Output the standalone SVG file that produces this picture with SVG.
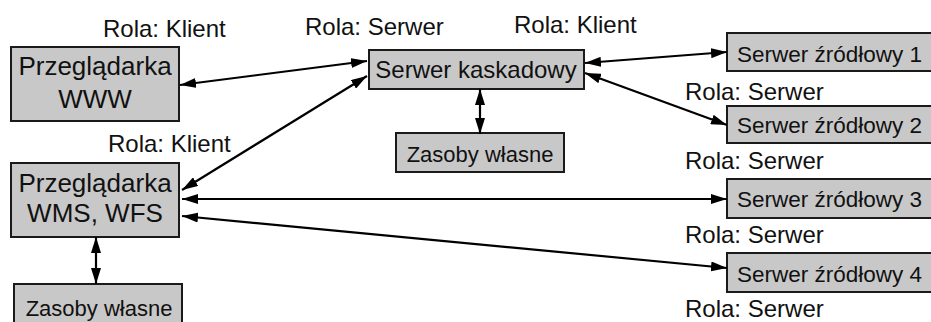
<svg xmlns="http://www.w3.org/2000/svg" width="931" height="322" viewBox="0 0 931 322">
<style>
  .box { fill: #c8c8c8; stroke: #1a1a1a; stroke-width: 2; }
  .t { font-family: "Liberation Sans", Arial, sans-serif; fill: #111; }
  .big { font-size: 26px; text-anchor: middle; }
  .mid { font-size: 24px; text-anchor: middle; }
  .sm { font-size: 22px; text-anchor: middle; }
  .src { font-size: 22.5px; }
  .role { font-size: 24px; }
  .conn line { stroke: #000; stroke-width: 2.2; fill: none; marker-start: url(#ah); marker-end: url(#ah); }
</style>
<defs>
  <marker id="ah" viewBox="0 0 16 10" refX="16" refY="5" markerWidth="16" markerHeight="10" markerUnits="userSpaceOnUse" orient="auto-start-reverse">
    <path d="M0,0 L16,5 L0,10 z" fill="#000"/>
  </marker>
</defs>
<rect width="931" height="322" fill="#fff"/>

<g id="przegladarka-www">
  <rect class="box" x="11" y="47" width="168" height="74"/>
  <text class="t big" x="95" y="75">Przeglądarka</text>
  <text class="t big" x="95" y="108">WWW</text>
</g>
<g id="przegladarka-wms">
  <rect class="box" x="11" y="163" width="168" height="74"/>
  <text class="t big" x="95" y="192">Przeglądarka</text>
  <text class="t big" x="95" y="222">WMS, WFS</text>
</g>
<g id="zasoby-lewe">
  <rect class="box" x="14" y="284" width="168" height="45"/>
  <text class="t sm" x="99" y="316">Zasoby własne</text>
</g>
<g id="serwer-kaskadowy">
  <rect class="box" x="369" y="50" width="215" height="39"/>
  <text class="t mid" x="476" y="78">Serwer kaskadowy</text>
</g>
<g id="zasoby-srodek">
  <rect class="box" x="396" y="133" width="168" height="39"/>
  <text class="t sm" x="480" y="162">Zasoby własne</text>
</g>
<g id="zrodlowy-1">
  <rect class="box" x="727" y="33" width="220" height="38"/>
  <text class="t src" x="737" y="62">Serwer źródłowy 1</text>
</g>
<g id="zrodlowy-2">
  <rect class="box" x="727" y="106" width="220" height="37"/>
  <text class="t src" x="737" y="133">Serwer źródłowy 2</text>
</g>
<g id="zrodlowy-3">
  <rect class="box" x="727" y="179" width="220" height="39"/>
  <text class="t src" x="737" y="207">Serwer źródłowy 3</text>
</g>
<g id="zrodlowy-4">
  <rect class="box" x="727" y="253" width="220" height="39"/>
  <text class="t src" x="737" y="282">Serwer źródłowy 4</text>
</g>

<g id="role">
  <text class="t role" x="103" y="37">Rola: Klient</text>
  <text class="t role" x="305" y="35">Rola: Serwer</text>
  <text class="t role" x="514" y="33">Rola: Klient</text>
  <text class="t role" x="108" y="152">Rola: Klient</text>
  <text class="t role" x="685" y="100">Rola: Serwer</text>
  <text class="t role" x="685" y="169">Rola: Serwer</text>
  <text class="t role" x="685" y="243">Rola: Serwer</text>
  <text class="t role" x="685" y="317">Rola: Serwer</text>
</g>

<g id="connectors" class="conn">
  <line x1="367" y1="61" x2="180" y2="85"/>
  <line x1="367" y1="76" x2="182" y2="190"/>
  <line x1="585" y1="63" x2="727" y2="52"/>
  <line x1="585" y1="73" x2="727" y2="125"/>
  <line x1="182" y1="199" x2="727" y2="199"/>
  <line x1="182" y1="216" x2="727" y2="268"/>
  <line x1="480" y1="89" x2="480" y2="134"/>
  <line x1="96" y1="237" x2="96" y2="284"/>
</g>
</svg>
